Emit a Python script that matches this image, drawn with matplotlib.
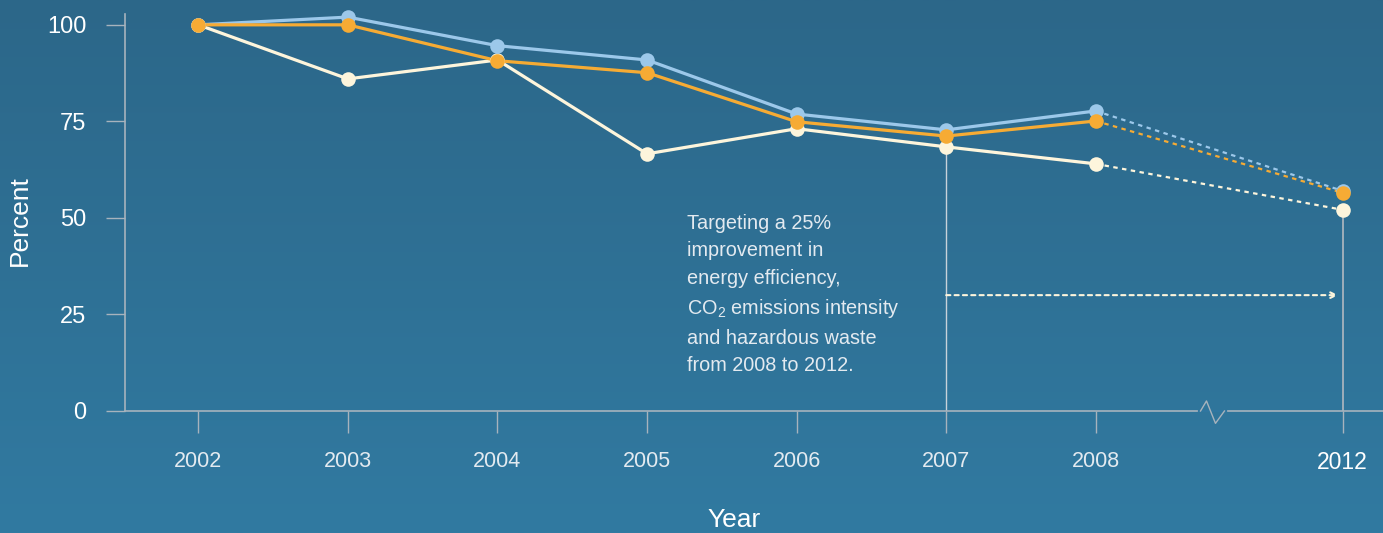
import numpy as np
import matplotlib.pyplot as plt
from matplotlib.colors import LinearSegmentedColormap

# Dados
anos = ['2002', '2003', '2004', '2005', '2006', '2007', '2008', '2012']
posicoes = [0, 1, 2, 3, 4, 5, 6, 7.65]
energia = [100, 102, 94.6, 90.9, 76.9, 72.8, 77.7, 57.0]
co2 = [100, 100, 90.7, 87.6, 74.9, 71.2, 75.1, 56.5]
residuos = [100, 86, 90.9, 66.6, 73.1, 68.4, 64.0, 52.1]
meta_seta = 30

AZUL = '#9cc8ea'
LARANJA = '#f6ab34'
CREME = '#fdf5dc'
EIXO = '#a7b3bd'
TEXTO = '#e3eaf0'

plt.rcParams['font.family'] = ['Liberation Sans', 'DejaVu Sans']
plt.rcParams['mathtext.fontset'] = 'custom'
plt.rcParams['mathtext.rm'] = 'Liberation Sans'

fig = plt.figure(figsize=(13.83, 5.33), dpi=100)

# fundo em gradiente
bg = fig.add_axes([0, 0, 1, 1], zorder=-10)
grad = np.linspace(0, 1, 256).reshape(-1, 1)
cmap_bg = LinearSegmentedColormap.from_list('bg', ['#2c6789', '#317aa1'])
bg.imshow(grad, aspect='auto', cmap=cmap_bg, extent=[0, 1, 1, 0])
bg.axis('off')

ax = fig.add_axes([0.0904, 0.2289, 0.9096, 0.7448])
ax.patch.set_alpha(0)

# linhas sólidas até 2008, pontilhadas até 2012
for serie, cor in [(residuos, CREME), (energia, AZUL), (co2, LARANJA)]:
    ax.plot(posicoes[:7], serie[:7], color=cor, lw=2.3, zorder=3, clip_on=False)
    ax.plot(posicoes[6:], serie[6:], color=cor, lw=1.6, ls=(0, (2, 2)), zorder=2)
    ax.scatter(posicoes, serie, s=110, color=cor, zorder=4, linewidths=0, clip_on=False)

# linhas verticais de 2007 e 2012
ax.plot([posicoes[5], posicoes[5]], [0, residuos[5]], color='#c8d2da', lw=1, zorder=1)
ax.plot([posicoes[7], posicoes[7]], [0, residuos[7]], color=EIXO, lw=1.3, zorder=1)

# seta pontilhada
ax.annotate('', xy=(posicoes[7] - 0.03, meta_seta), xytext=(posicoes[5], meta_seta),
            arrowprops=dict(arrowstyle='->', color=CREME, lw=1.5, ls=(0, (2, 2)),
                            shrinkA=0, shrinkB=0))

ax.text(3.27, 51.0, 'Targeting a 25%\nimprovement in\nenergy efficiency,\n'
        'CO$_\\mathrm{2}$ emissions intensity\nand hazardous waste\nfrom 2008 to 2012.',
        color=TEXTO, fontsize=14.3, va='top', ha='left', linespacing=1.56)

# quebra do eixo
zx = [6.7, 6.74, 6.8, 6.86]
zy = [0, 2.6, -3.2, 0]
ax.plot(zx, zy, color=EIXO, lw=1, clip_on=False, zorder=5)
ax.plot([6.69, 6.87], [0, 0], color='#2f76a0', lw=1.6, clip_on=False, zorder=4)

ax.set_xlim(-0.49, 7.92)
ax.set_ylim(0, 102.8)
ax.set_yticks([0, 25, 50, 75, 100])
ax.set_xticks(posicoes)
ax.set_xticklabels(anos)
for spine in ['top', 'right']:
    ax.spines[spine].set_visible(False)
for spine in ['left', 'bottom']:
    ax.spines[spine].set_color(EIXO)
    ax.spines[spine].set_linewidth(1.2)
ax.tick_params(axis='y', colors=EIXO, length=14, width=1, labelsize=17,
               labelcolor='white', pad=14)
ax.tick_params(axis='x', colors=EIXO, length=16, width=1, labelsize=15.5,
               labelcolor=TEXTO, pad=13)
ax.get_xticklabels()[-1].set_color('white')
ax.get_xticklabels()[-1].set_fontsize(16.5)

fig.text(0.006, 0.587, 'Percent', rotation=90, color='white', fontsize=19,
         va='center', ha='left')
fig.text(0.531, 0.025, 'Year', color='white', fontsize=19, ha='center', va='center')

fig.savefig('out.png', dpi=100)
